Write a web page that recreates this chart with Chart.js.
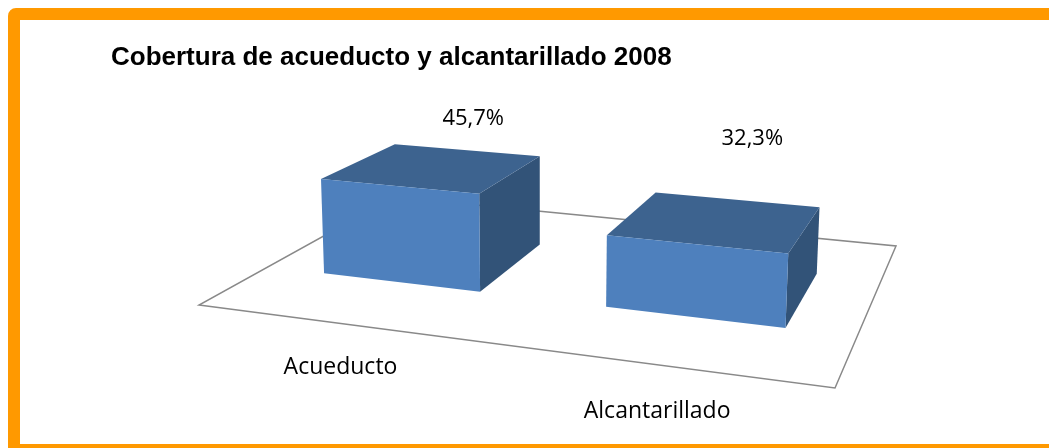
<!DOCTYPE html>
<html>
<head>
<meta charset="utf-8">
<script src="https://cdn.jsdelivr.net/npm/chart.js@4.4.0/dist/chart.umd.min.js"></script>
<style>
html, body { margin: 0; padding: 0; background: #fff; overflow: hidden; }
#wrap { position: absolute; left: 0; top: 0; width: 1049px; height: 448px; }
#frame { position: absolute; left: 8px; top: 8px; width: 1080px; height: 424px; border: 12px solid #ff9900; border-radius: 8px; pointer-events: none; }
</style>
</head>
<body>
<div id="wrap"><canvas id="myChart"></canvas></div>
<div id="frame"></div>
<script>
var categories = ["Acueducto", "Alcantarillado"];
var coverage = [45.7, 32.3];
var valueLabels = ["45,7%", "32,3%"];
var chartTitle = "Cobertura de acueducto y alcantarillado 2008";

// floor corners of the 3d plot (canvas px)
var floorFL = [199, 305], floorFR = [835, 388], floorBR = [896, 246], floorBL = [394, 197];
var depthFront = 0.3, depthBack = 0.7;   // bar depth on the floor (0 = front edge, 1 = back)
var heightRef = 137;                      // px for a full y axis at the front plane
var vpX = 540, lean = 0.00015;            // slight convergence of vertical edges

// unit square -> floor quad
function makeHomography(p0, p1, p2, p3) {
	var dx1 = p1[0] - p2[0], dx2 = p3[0] - p2[0], dx3 = p0[0] - p1[0] + p2[0] - p3[0];
	var dy1 = p1[1] - p2[1], dy2 = p3[1] - p2[1], dy3 = p0[1] - p1[1] + p2[1] - p3[1];
	var den = dx1 * dy2 - dx2 * dy1;
	var g = (dx3 * dy2 - dx2 * dy3) / den;
	var h = (dx1 * dy3 - dx3 * dy1) / den;
	return {
		a: p1[0] - p0[0] + g * p1[0], b: p3[0] - p0[0] + h * p3[0], c: p0[0],
		d: p1[1] - p0[1] + g * p1[1], e: p3[1] - p0[1] + h * p3[1], f: p0[1],
		g: g, h: h
	};
}
var H = makeHomography(floorFL, floorFR, floorBR, floorBL);

function project(u, w, hpx) {
	var z = H.g * u + H.h * w + 1;
	var x = (H.a * u + H.b * w + H.c) / z;
	var y = (H.d * u + H.e * w + H.f) / z;
	var dh = (hpx || 0) / z;
	return [x + (x - vpX) * lean * dh, y - dh, z];
}

function poly(ctx, pts, fill) {
	ctx.beginPath();
	ctx.moveTo(pts[0][0], pts[0][1]);
	for (var i = 1; i < pts.length; i++) ctx.lineTo(pts[i][0], pts[i][1]);
	ctx.closePath();
	ctx.fillStyle = fill;
	ctx.fill();
}

var box3d = {
	id: "box3d",
	beforeDatasetsDraw: function (chart) {
		var ctx = chart.ctx;
		ctx.save();
		ctx.strokeStyle = "#898989";
		ctx.lineWidth = 1.5;
		ctx.beginPath();
		ctx.moveTo(floorFL[0], floorFL[1]);
		ctx.lineTo(floorFR[0], floorFR[1]);
		ctx.lineTo(floorBR[0], floorBR[1]);
		ctx.lineTo(floorBL[0], floorBL[1]);
		ctx.closePath();
		ctx.stroke();
		ctx.restore();
	},
	afterDatasetsDraw: function (chart) {
		var ctx = chart.ctx;
		var area = chart.chartArea;
		var yScale = chart.scales.y;
		var aw = area.right - area.left, ah = area.bottom - area.top;
		var meta = chart.getDatasetMeta(0);
		ctx.save();
		meta.data.forEach(function (bar, i) {
			var u0 = (bar.x - bar.width / 2 - area.left) / aw;
			var u1 = (bar.x + bar.width / 2 - area.left) / aw;
			var uc = (bar.x - area.left) / aw;
			var hp = (bar.base - bar.y) / ah * heightRef;
			var w0 = depthFront, w1 = depthBack;

			// right side, top, front
			poly(ctx, [project(u1, w0, 0), project(u1, w1, 0), project(u1, w1, hp), project(u1, w0, hp)], "#325378");
			poly(ctx, [project(u0, w0, hp), project(u1, w0, hp), project(u1, w1, hp), project(u0, w1, hp)], "#3d638f");
			poly(ctx, [project(u0, w0, 0), project(u1, w0, 0), project(u1, w0, hp), project(u0, w0, hp)], "#4e80bd");

			ctx.fillStyle = "#000";
			ctx.textAlign = "center";
			ctx.textBaseline = "middle";
			ctx.font = '22px "Open Sans"';
			// value label sits at the top of the value axis
			var topHp = (yScale.getPixelForValue(yScale.min) - yScale.getPixelForValue(yScale.max)) / ah * heightRef;
			var lp = project(uc, 0.75, topHp);
			ctx.fillText(valueLabels[i], lp[0] + (i === 1 ? 10 : 0), lp[1] + 3);
			// category label in front of the floor
			ctx.font = '23px "Open Sans"';
			var cp = project(uc, 0, 0);
			ctx.fillText(categories[i], cp[0], cp[1] + 42 / cp[2]);
		});
		ctx.restore();
	}
};

document.addEventListener("DOMContentLoaded", function () {
	var ctx = document.getElementById("myChart").getContext("2d");
	var myChart = new Chart(ctx, {
		type: "bar",
		data: {
			labels: categories,
			datasets: [
				{
					label: "Cobertura",
					data: coverage,
					backgroundColor: "rgba(0,0,0,0)",
					categoryPercentage: 0.57,
					barPercentage: 1,
				},
			],
		},
		options: {
			responsive: true,
			maintainAspectRatio: false,
			animation: false,
			layout: { padding: { left: 111, top: 30, right: 20, bottom: 20 } },
			scales: {
				x: { display: false },
				y: { display: false, min: 0, max: 62 },
			},
			plugins: {
				legend: { display: false },
				tooltip: { enabled: false },
				title: {
					display: true,
					text: chartTitle,
					align: "start",
					color: "#000",
					font: { family: "Liberation Sans", size: 26, weight: "bold" },
					padding: { top: 12, bottom: 10 },
				},
			},
		},
		plugins: [box3d],
	});
});
</script>
</body>
</html>
